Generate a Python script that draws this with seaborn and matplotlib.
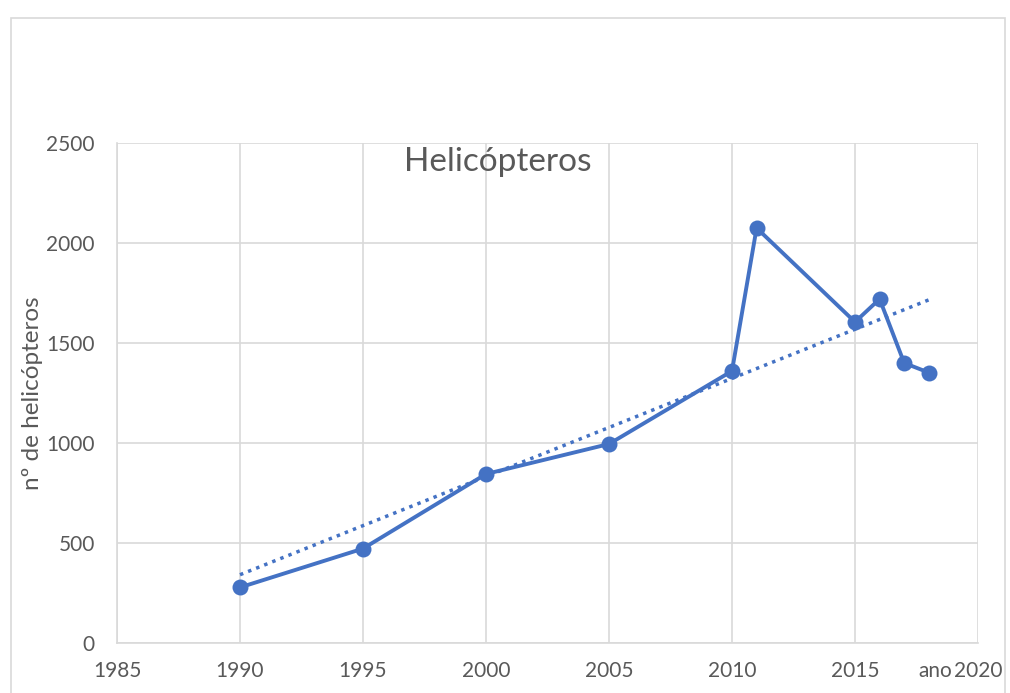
import numpy as np
import pandas as pd
import matplotlib
matplotlib.use("Agg")
import matplotlib.pyplot as plt
import matplotlib.transforms as mtransforms
import seaborn as sns
from matplotlib.patches import Rectangle

years = [1990, 1995, 2000, 2005, 2010, 2011, 2015, 2016, 2017, 2018]
helicopters = [278, 472, 845, 995, 1360, 2075, 1605, 1720, 1400, 1352]
title = "Helicópteros"
xlabel = "ano"
ylabel = "nº de helicópteros"
xticks = [1985, 1990, 1995, 2000, 2005, 2010, 2015, 2020]
yticks = [0, 500, 1000, 1500, 2000, 2500]

df = pd.DataFrame({"ano": years, "n": helicopters})

sns.set_theme(style="white")
plt.rcParams['font.family'] = ['Lato', 'DejaVu Sans']

color = "#4472C4"
text_color = "#595959"
grid_color = "#D9D9D9"

fig = plt.figure(figsize=(10.10, 6.93), dpi=100)
ax = fig.add_axes([117/1010, 1 - 643/693, (978-117)/1010, (643-143)/693])

sns.regplot(data=df, x="ano", y="n", ax=ax, scatter=False, ci=None, truncate=True,
            line_kws=dict(color=color, linestyle=(0, (1, 1.5)), linewidth=2.5))
sns.lineplot(data=df, x="ano", y="n", ax=ax, color=color, linewidth=2.8,
             marker="o", markersize=11.5, markeredgewidth=0)

ax.set_xlim(1985, 2020)
ax.set_ylim(0, 2500)
ax.set_xticks(xticks)
ax.set_yticks(yticks)
ax.set_xticklabels([str(t) for t in xticks])
ax.set_yticklabels([str(t) for t in yticks])
ax.tick_params(axis='both', length=0, labelsize=15, labelcolor=text_color)
ax.tick_params(axis='x', pad=13)
ax.tick_params(axis='y', pad=16)
ax.grid(True, color=grid_color, linewidth=1.2)
ax.set_axisbelow(True)
for s in ["top", "right"]:
    ax.spines[s].set_visible(False)
for s in ["left", "bottom"]:
    ax.spines[s].set_color(grid_color)
    ax.spines[s].set_linewidth(1.2)

ax.set_xlabel("")
ax.set_ylabel(ylabel, fontsize=17.5, color=text_color, labelpad=2)

trans = mtransforms.blended_transform_factory(ax.transData, ax.transAxes)
ax.text(2018.95, -(13 * 100 / 72) / 500, xlabel, transform=trans, fontsize=15,
        color=text_color, ha="right", va="top")

fig.text(498/1010, 1 - 171/693, title, fontsize=24, color=text_color,
         ha="center", va="baseline")

fig.patches.append(Rectangle((11/1010, -0.1), (1005-11)/1010, 1.1 - 18/693,
                             transform=fig.transFigure, fill=False,
                             edgecolor="#D9D9D9", linewidth=1.2))

fig.savefig("out.png", dpi=100)
